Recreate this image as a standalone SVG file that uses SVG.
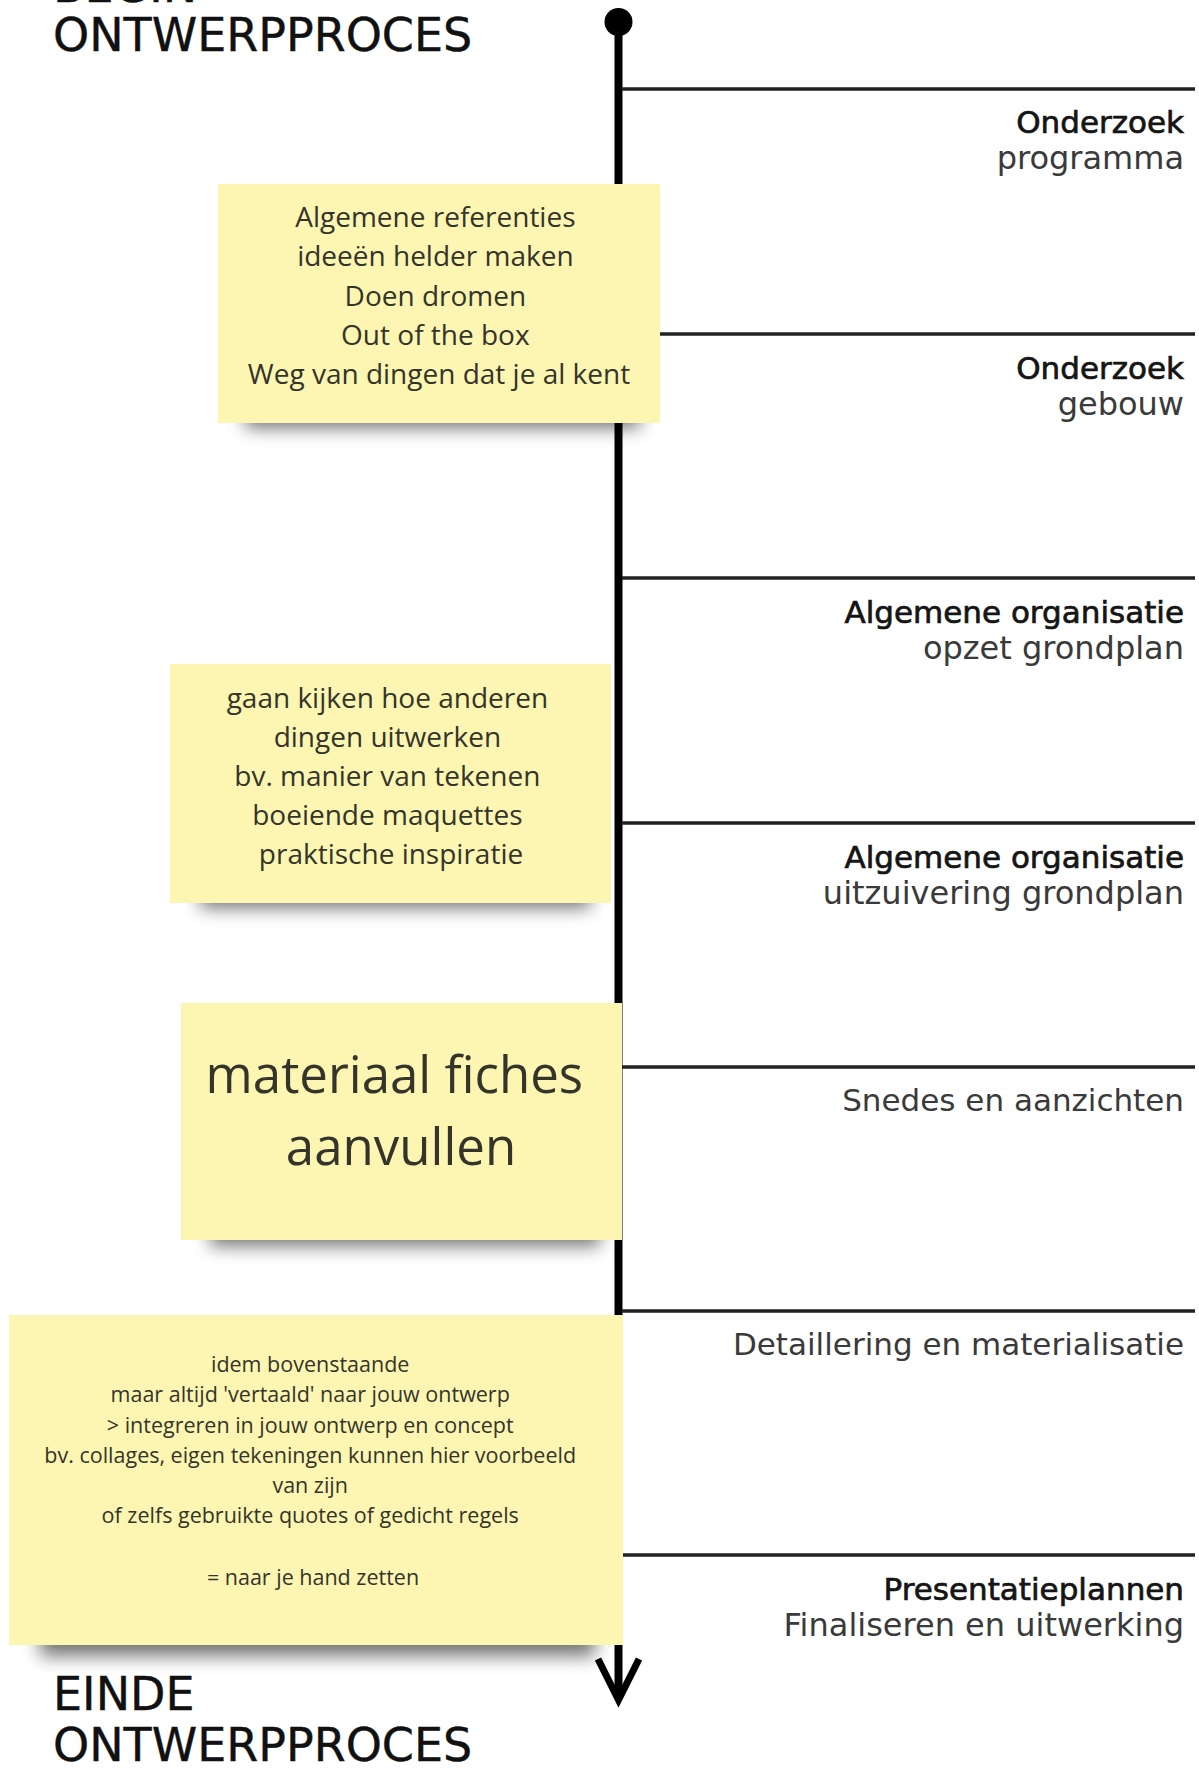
<svg xmlns="http://www.w3.org/2000/svg" width="1199" height="1771" viewBox="0 0 1199 1771">
<style>
  .title { font-family: "DejaVu Sans", "Liberation Sans", sans-serif; font-size: 46px; fill: #111; stroke: #111; stroke-width: 0.4; }
  .lbl-b { font-family: "DejaVu Sans", "Liberation Sans", sans-serif; font-size: 31px; fill: #151515; stroke: #151515; stroke-width: 0.7; text-anchor: end; }
  .lbl { font-family: "DejaVu Sans", "Liberation Sans", sans-serif; font-size: 31px; fill: #3a3a3a; text-anchor: end; }
  .sub { font-size: 32px; }
  .note { fill: #fdf6b2; }
  .nt { font-family: "Open Sans", "Liberation Sans", sans-serif; fill: #34342a; text-anchor: middle; }
  .sep { stroke: #222; stroke-width: 3.5; }
  .shadow { fill: #000; opacity: 0.55; filter: url(#blur); }
</style>
<defs>
  <filter id="blur" x="-20%" y="-100%" width="140%" height="300%">
    <feGaussianBlur stdDeviation="9"/>
  </filter>
</defs>
<rect width="1199" height="1771" fill="#ffffff"/>

<g id="titles">
  <text class="title" x="53" y="2">BEGIN</text>
  <text class="title" x="53" y="51">ONTWERPPROCES</text>
  <text class="title" x="53" y="1710">EINDE</text>
  <text class="title" x="53" y="1761">ONTWERPPROCES</text>
</g>

<g id="connectors">
  <line x1="618.5" y1="22" x2="618.5" y2="1698" stroke="#000" stroke-width="8"/>
  <circle cx="618.5" cy="22" r="14" fill="#000"/>
  <polyline points="598,1659 618.5,1700 639,1659" fill="none" stroke="#000" stroke-width="7" stroke-linejoin="miter" stroke-linecap="butt"/>
  <line class="sep" x1="622" y1="89" x2="1195" y2="89"/>
  <line class="sep" x1="622" y1="334" x2="1195" y2="334"/>
  <line class="sep" x1="622" y1="578" x2="1195" y2="578"/>
  <line class="sep" x1="622" y1="823" x2="1195" y2="823"/>
  <line class="sep" x1="622" y1="1067" x2="1195" y2="1067"/>
  <line class="sep" x1="622" y1="1311" x2="1195" y2="1311"/>
  <line class="sep" x1="622" y1="1555" x2="1195" y2="1555"/>
</g>

<g id="phase1">
  <text class="lbl-b" x="1184" y="133">Onderzoek</text>
  <text class="lbl sub" x="1184" y="169">programma</text>
</g>
<g id="phase2">
  <text class="lbl-b" x="1184" y="379">Onderzoek</text>
  <text class="lbl sub" x="1184" y="415">gebouw</text>
</g>
<g id="phase3">
  <text class="lbl-b" x="1184" y="623">Algemene organisatie</text>
  <text class="lbl sub" x="1184" y="659">opzet grondplan</text>
</g>
<g id="phase4">
  <text class="lbl-b" x="1184" y="868">Algemene organisatie</text>
  <text class="lbl sub" x="1184" y="904">uitzuivering grondplan</text>
</g>
<g id="phase5">
  <text class="lbl" x="1184" y="1111">Snedes en aanzichten</text>
</g>
<g id="phase6">
  <text class="lbl" x="1184" y="1355">Detaillering en materialisatie</text>
</g>
<g id="phase7">
  <text class="lbl-b" x="1184" y="1600">Presentatieplannen</text>
  <text class="lbl sub" x="1184" y="1636">Finaliseren en uitwerking</text>
</g>

<g id="note1">
  <rect class="shadow" x="245" y="402" width="395" height="26"/>
  <rect class="note" x="218" y="184" width="442" height="239"/>
  <text class="nt" font-size="28" x="439">
    <tspan x="439" y="227">Algemene referenties</tspan>
    <tspan x="439" y="266">ideeën helder maken</tspan>
    <tspan x="439" y="306">Doen dromen</tspan>
    <tspan x="439" y="345">Out of the box</tspan>
    <tspan x="439" y="384">Weg van dingen dat je al kent</tspan>
  </text>
</g>

<g id="note2">
  <rect class="shadow" x="200" y="882" width="390" height="26"/>
  <rect class="note" x="170" y="664" width="441" height="239"/>
  <text class="nt" font-size="28" x="391">
    <tspan x="391" y="708">gaan kijken hoe anderen</tspan>
    <tspan x="391" y="747">dingen uitwerken</tspan>
    <tspan x="391" y="786">bv. manier van tekenen</tspan>
    <tspan x="391" y="825">boeiende maquettes</tspan>
    <tspan x="391" y="864">praktische inspiratie</tspan>
  </text>
</g>

<g id="note3">
  <rect class="shadow" x="210" y="1218" width="390" height="28"/>
  <rect class="note" x="181" y="1003" width="441" height="237"/>
  <text class="nt" font-size="51" x="401">
    <tspan x="401" y="1093">materiaal fiches</tspan>
    <tspan x="401" y="1165">aanvullen</tspan>
  </text>
</g>

<g id="note4">
  <rect class="shadow" x="40" y="1620" width="555" height="36"/>
  <rect class="note" x="9" y="1315" width="614" height="330"/>
  <text class="nt" font-size="21.5" x="313">
    <tspan x="313" y="1372">idem bovenstaande</tspan>
    <tspan x="313" y="1402">maar altijd 'vertaald' naar jouw ontwerp</tspan>
    <tspan x="313" y="1433">&gt; integreren in jouw ontwerp en concept</tspan>
    <tspan x="313" y="1463">bv. collages, eigen tekeningen kunnen hier voorbeeld</tspan>
    <tspan x="313" y="1493">van zijn</tspan>
    <tspan x="313" y="1523">of zelfs gebruikte quotes of gedicht regels</tspan>
    <tspan x="313" y="1585">= naar je hand zetten</tspan>
  </text>
</g>
</svg>
